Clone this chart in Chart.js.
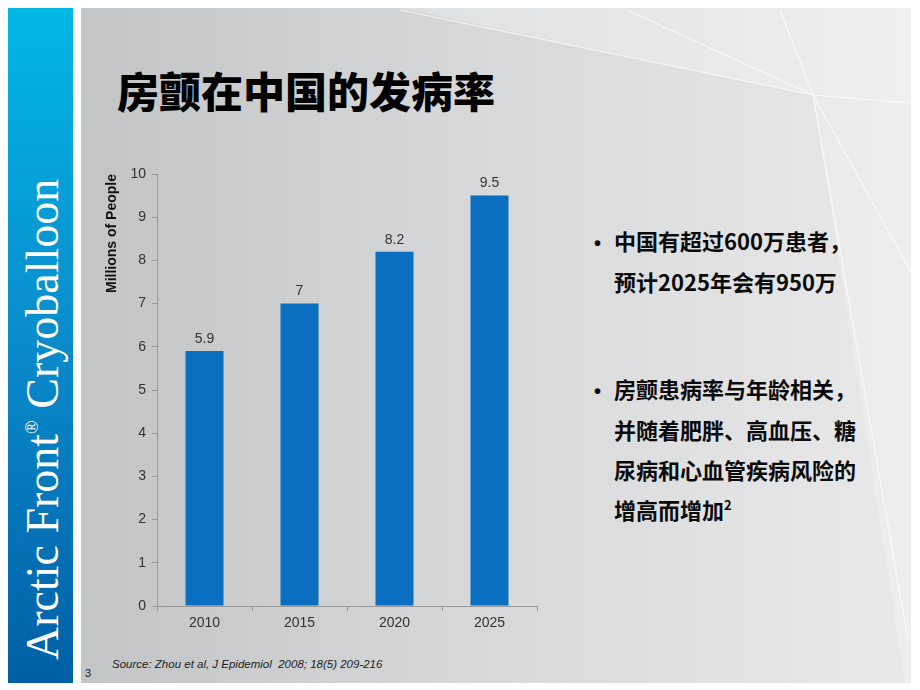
<!DOCTYPE html>
<html>
<head>
<meta charset="utf-8">
<script src="https://cdn.jsdelivr.net/npm/chart.js@4/dist/chart.umd.min.js"></script>
<style>
  html, body { margin: 0; padding: 0; background: #fff; }
  #page { position: relative; width: 920px; height: 690px; overflow: hidden; background: #fff; }
  #bg { position: absolute; left: 0; top: 0; }
  #chartWrap { position: absolute; left: 100px; top: 150px; width: 460px; height: 490px; }
</style>
</head>
<body>
<div id="page">
  <svg id="bg" width="920" height="690" xmlns="http://www.w3.org/2000/svg">
    <defs>
      <linearGradient id="side" x1="0" y1="0" x2="0" y2="1">
        <stop offset="0" stop-color="#00b7e4"/>
        <stop offset="0.45" stop-color="#0a8fcf"/>
        <stop offset="1" stop-color="#005fa5"/>
      </linearGradient>
      <linearGradient id="panel" x1="0" y1="0" x2="1" y2="0">
        <stop offset="0" stop-color="#c3c4c6"/>
        <stop offset="0.45" stop-color="#d6d7d8"/>
        <stop offset="1" stop-color="#e9e9ea"/>
      </linearGradient>
    </defs>
    <rect x="8" y="8" width="65" height="675" fill="url(#side)"/>
    <rect x="81" y="8" width="830" height="675" fill="url(#panel)"/>
    <polygon points="400,8 813,95 911,103 911,8" fill="#ffffff" opacity="0.28"/>
    <polygon points="813,95 911,103 911,683 905,683" fill="#ffffff" opacity="0.22"/>
    <g stroke="#ffffff" stroke-width="1.2" opacity="0.75" fill="none">
      <line x1="400" y1="10" x2="813" y2="95"/>
      <line x1="627" y1="10" x2="813" y2="95"/>
      <line x1="780" y1="10" x2="813" y2="95"/>
      <line x1="813" y1="95" x2="911" y2="103"/>
      <line x1="813" y1="95" x2="911" y2="272"/>
      <line x1="813" y1="95" x2="908" y2="640"/>
    </g>
    <text transform="translate(58,660) rotate(-90)" font-family="Liberation Serif, Times New Roman, serif" font-size="46" fill="#ffffff">Arctic Front<tspan font-size="18" dy="-20">®</tspan><tspan dy="20"> Cryoballoon</tspan></text>
    <text x="85" y="677" font-family="Liberation Sans, Arial, sans-serif" font-size="11" fill="#222">3</text>
    <text x="117" y="108" font-family="Noto Sans CJK SC" font-weight="900" font-size="42" fill="#000">房颤在中国的发病率</text>
    <g font-family="Noto Sans CJK SC" font-weight="700" font-size="22" fill="#0a0a0a">
      <text x="594" y="250" font-family="Liberation Sans, Arial, sans-serif" font-size="20">•</text>
      <text x="614" y="250">中国有超过600万患者，</text>
      <text x="614" y="291">预计2025年会有950万</text>
      <text x="594" y="398" font-family="Liberation Sans, Arial, sans-serif" font-size="20">•</text>
      <text x="614" y="398">房颤患病率与年龄相关，</text>
      <text x="614" y="439">并随着肥胖、高血压、糖</text>
      <text x="614" y="479">尿病和心血管疾病风险的</text>
      <text x="614" y="519">增高而增加<tspan font-size="13" dy="-9">2</tspan></text>
    </g>
    <text x="112" y="668" style="white-space:pre" font-family="Liberation Sans, Arial, sans-serif" font-style="italic" font-size="11.5" fill="#222">Source: Zhou et al, J Epidemiol  2008; 18(5) 209-216</text>
  </svg>
  <div id="chartWrap"><canvas id="c" width="460" height="490"></canvas></div>
</div>
<script>
const categories = ['2010', '2015', '2020', '2025'];
const patientsMillions = [5.9, 7, 8.2, 9.5];
const yAxisTitle = 'Millions of People';

const valueLabels = {
  id: 'valueLabels',
  afterDatasetsDraw(chart) {
    const ctx = chart.ctx;
    const meta = chart.getDatasetMeta(0);
    ctx.save();
    ctx.font = '14px "Liberation Sans", Arial, sans-serif';
    ctx.fillStyle = '#333';
    ctx.textAlign = 'center';
    ctx.textBaseline = 'bottom';
    meta.data.forEach((bar, i) => {
      ctx.fillText(String(chart.data.datasets[0].data[i]), bar.x, bar.y - 5);
    });
    ctx.restore();
  }
};

new Chart(document.getElementById('c'), {
  type: 'bar',
  data: {
    labels: categories,
    datasets: [{
      data: patientsMillions,
      backgroundColor: '#0a6fc0',
      borderWidth: 0,
      barPercentage: 0.4,
      categoryPercentage: 1.0
    }]
  },
  options: {
    responsive: false,
    devicePixelRatio: 1,
    animation: false,
    layout: { padding: { left: 0, top: 24, right: 23, bottom: 0 } },
    plugins: { legend: { display: false }, tooltip: { enabled: false }, title: { display: false } },
    scales: {
      x: {
        afterFit(s) { s.height = 34; },
        grid: { display: true, drawOnChartArea: false, tickLength: 5, color: '#9a9a9a', offset: true },
        border: { color: '#9a9a9a' },
        ticks: { color: '#333', font: { family: '"Liberation Sans", Arial, sans-serif', size: 14 }, padding: 4 }
      },
      y: {
        min: 0, max: 10,
        afterFit(s) { s.width = 57; },
        grid: { display: true, drawOnChartArea: false, tickLength: 5, color: '#9a9a9a' },
        border: { color: '#9a9a9a' },
        ticks: { stepSize: 1, color: '#333', font: { family: '"Liberation Sans", Arial, sans-serif', size: 14 }, padding: 6 },
        title: { display: true, text: yAxisTitle, align: 'end', color: '#111',
                 font: { family: '"Liberation Sans", Arial, sans-serif', size: 14, weight: 'bold' },
                 padding: { top: 4, bottom: 0 } }
      }
    }
  },
  plugins: [valueLabels]
});
</script>
</body>
</html>
